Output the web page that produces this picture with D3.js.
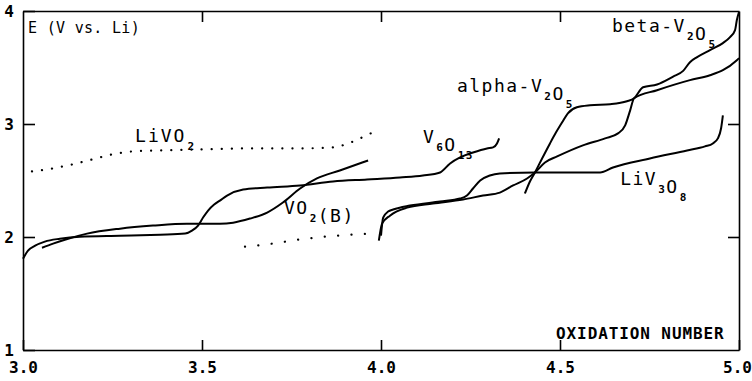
<!DOCTYPE html>
<html>
<head>
<meta charset="utf-8">
<script src="https://cdn.jsdelivr.net/npm/d3@7/dist/d3.min.js"></script>
<style>
  body { margin: 0; background: #fff; }
  svg text { font-family: "DejaVu Sans Mono", "Liberation Mono", monospace; fill: #000; }
  .axis path, .axis line { stroke: #000; stroke-width: 1.6; }
  .curve { fill: none; stroke: #000; stroke-width: 2; stroke-linejoin: round; }
  .dots { fill: none; stroke: #000; stroke-width: 2.2; stroke-linecap: round; }
</style>
</head>
<body>
<div id="chart"></div>
<script>
// axis ticks
var xTicks = [3.0, 3.5, 4.0, 4.5, 5.0];
var xTickLabels = ["3.0", "3.5", "4.0", "4.5", "5.0"];
var yTicks = [1, 2, 3, 4];
var yTickLabels = ["1", "2", "3", "4"];

// discharge curves, [oxidation number, E (V vs. Li)]
var v6o13 = [[3.000, 1.808], [3.014, 1.879], [3.034, 1.923], [3.061, 1.959], [3.103, 1.985],
  [3.159, 2.003], [3.271, 2.012], [3.383, 2.021], [3.453, 2.030], [3.472, 2.056],
  [3.489, 2.101], [3.503, 2.172], [3.517, 2.234], [3.534, 2.287], [3.550, 2.322],
  [3.570, 2.367], [3.615, 2.420], [3.682, 2.438], [3.774, 2.456], [3.866, 2.491],
  [3.961, 2.509], [4.053, 2.527], [4.117, 2.544], [4.165, 2.571], [4.193, 2.651],
  [4.221, 2.704], [4.257, 2.748], [4.296, 2.784], [4.313, 2.793], [4.324, 2.828],
  [4.330, 2.873]];

var vo2b = [[3.053, 1.905], [3.084, 1.941], [3.117, 1.976], [3.179, 2.030], [3.271, 2.074],
  [3.363, 2.101], [3.458, 2.118], [3.550, 2.118], [3.587, 2.127], [3.634, 2.163],
  [3.682, 2.216], [3.726, 2.305], [3.774, 2.429], [3.821, 2.518], [3.885, 2.589],
  [3.964, 2.677]];

var livo2 = [[3.025, 2.580], [3.081, 2.606], [3.137, 2.642], [3.193, 2.686], [3.249, 2.731],
  [3.304, 2.757], [3.383, 2.766], [3.494, 2.775], [3.634, 2.784], [3.774, 2.784],
  [3.866, 2.793], [3.908, 2.828], [3.936, 2.864], [3.964, 2.908], [3.992, 2.935]];

var vo2bLow = [[3.620, 1.914], [3.696, 1.941], [3.768, 1.976], [3.844, 2.003],
  [3.919, 2.021], [3.978, 2.030]];

var liv3o8 = [[4.000, 2.012], [4.006, 2.172], [4.020, 2.225], [4.034, 2.243], [4.081, 2.278],
  [4.165, 2.314], [4.221, 2.340], [4.240, 2.367], [4.257, 2.429], [4.277, 2.500],
  [4.304, 2.544], [4.332, 2.562], [4.430, 2.571], [4.612, 2.571], [4.648, 2.615],
  [4.751, 2.695], [4.855, 2.766], [4.905, 2.802], [4.927, 2.828], [4.941, 2.873],
  [4.950, 2.962], [4.955, 3.077]];

var alphaV2o5 = [[3.994, 1.967], [4.003, 2.118], [4.025, 2.189], [4.073, 2.260], [4.145, 2.296],
  [4.229, 2.331], [4.285, 2.367], [4.332, 2.393], [4.369, 2.456], [4.408, 2.518],
  [4.430, 2.571], [4.458, 2.660], [4.492, 2.713], [4.564, 2.811], [4.626, 2.873],
  [4.662, 2.917], [4.682, 2.988], [4.696, 3.121], [4.707, 3.228], [4.771, 3.299],
  [4.863, 3.388], [4.919, 3.432], [4.955, 3.476], [4.994, 3.565], [5.000, 3.583]];

var betaV2o5 = [[4.402, 2.385], [4.416, 2.491], [4.430, 2.571], [4.450, 2.695], [4.472, 2.828],
  [4.489, 2.926], [4.506, 3.015], [4.522, 3.095], [4.547, 3.148], [4.584, 3.166],
  [4.640, 3.175], [4.687, 3.201], [4.707, 3.228], [4.732, 3.325], [4.771, 3.350],
  [4.816, 3.420], [4.844, 3.470], [4.863, 3.547], [4.883, 3.592], [4.919, 3.654],
  [4.955, 3.716], [4.975, 3.769], [4.989, 3.831], [4.994, 3.920], [5.000, 3.991]];

// chart size
var svgW = 752, svgH = 381;
var margin = { top: 11, right: 13, bottom: 31, left: 23 };
var width = svgW - margin.left - margin.right;
var height = svgH - margin.top - margin.bottom;

var x = d3.scaleLinear().domain([3, 5]).range([0, width]);
var y = d3.scaleLinear().domain([1, 4]).range([height, 0]);

var svg = d3.select("#chart").append("svg")
  .attr("width", svgW)
  .attr("height", svgH)
  .append("g")
  .attr("transform", "translate(" + margin.left + "," + margin.top + ")");

// frame + inward ticks
svg.append("g")
  .attr("class", "axis")
  .attr("transform", "translate(0," + height + ")")
  .call(d3.axisBottom(x).tickValues(xTicks).tickSizeInner(-10).tickSizeOuter(0).tickPadding(12)
    .tickFormat(function (d, i) { return xTickLabels[i]; }))
  .call(function (g) {
    g.selectAll("text").attr("font-size", 16).attr("font-weight", "bold")
      .attr("font-family", '"DejaVu Sans Mono", monospace');
    // last label sits against the right edge of the page
    g.selectAll("text").filter(function (d) { return d === 5; }).attr("dx", -2);
  });

svg.append("g")
  .attr("class", "axis")
  .call(d3.axisTop(x).tickValues([3.5, 4.0, 4.5]).tickSizeInner(-11).tickSizeOuter(0).tickFormat(""));

svg.append("g")
  .attr("class", "axis")
  .call(d3.axisLeft(y).tickValues(yTicks).tickSizeInner(-12).tickSizeOuter(0).tickPadding(9)
    .tickFormat(function (d, i) { return yTickLabels[i]; }))
  .call(function (g) {
    g.selectAll("text").attr("font-size", 16).attr("font-weight", "bold")
      .attr("font-family", '"DejaVu Sans Mono", monospace');
  });

svg.append("g")
  .attr("class", "axis")
  .attr("transform", "translate(" + width + ",0)")
  .call(d3.axisRight(y).tickValues([2, 3]).tickSizeInner(-11).tickSizeOuter(0).tickFormat(""));

// curves
var line = d3.line()
  .x(function (d) { return x(d[0]); })
  .y(function (d) { return y(d[1]); })
  .curve(d3.curveMonotoneX);

[v6o13, vo2b, liv3o8, alphaV2o5, betaV2o5].forEach(function (s) {
  svg.append("path").datum(s).attr("class", "curve").attr("d", line);
});

svg.append("path").datum(livo2).attr("class", "dots")
  .attr("stroke-dasharray", "0.1 10").attr("d", line);
svg.append("path").datum(vo2bLow).attr("class", "dots")
  .attr("stroke-dasharray", "0.1 13.3").attr("d", line);

// labels with subscripts
function label(px, py, parts, size, weight, spacing) {
  var t = svg.append("text")
    .attr("x", x(px))
    .attr("y", y(py))
    .attr("font-size", size)
    .attr("font-weight", weight || "normal")
    .attr("letter-spacing", spacing || 0);
  parts.forEach(function (p) {
    if (p.sub) {
      t.append("tspan").attr("dy", 8).attr("font-size", 11).attr("font-weight", "bold")
        .attr("dx", 1).text(p.sub);
      t.append("tspan").attr("dy", -8).text("");
    } else {
      t.append("tspan").text(p.t);
    }
  });
}

label(3.014, 3.805, [{ t: "E (V vs. Li)" }], 15, "normal", 0.3);
label(4.489, 1.098, [{ t: "OXIDATION NUMBER" }], 16, "bold", 0.9);
label(3.313, 2.837, [{ t: "LiVO" }, { sub: "2" }], 18, "normal", 2);
label(4.117, 2.828, [{ t: "V" }, { sub: "6" }, { t: "O" }, { sub: "13" }], 18, "normal", 1.5);
label(3.729, 2.207, [{ t: "VO" }, { sub: "2" }, { t: "(B)" }], 18, "normal", 1.5);
label(4.212, 3.281, [{ t: "alpha-V" }, { sub: "2" }, { t: "O" }, { sub: "5" }], 18, "normal", 1.5);
label(4.645, 3.814, [{ t: "beta-V" }, { sub: "2" }, { t: "O" }, { sub: "5" }], 18, "normal", 1.5);
label(4.668, 2.456, [{ t: "LiV" }, { sub: "3" }, { t: "O" }, { sub: "8" }], 18, "normal", 1.5);
</script>
</body>
</html>
